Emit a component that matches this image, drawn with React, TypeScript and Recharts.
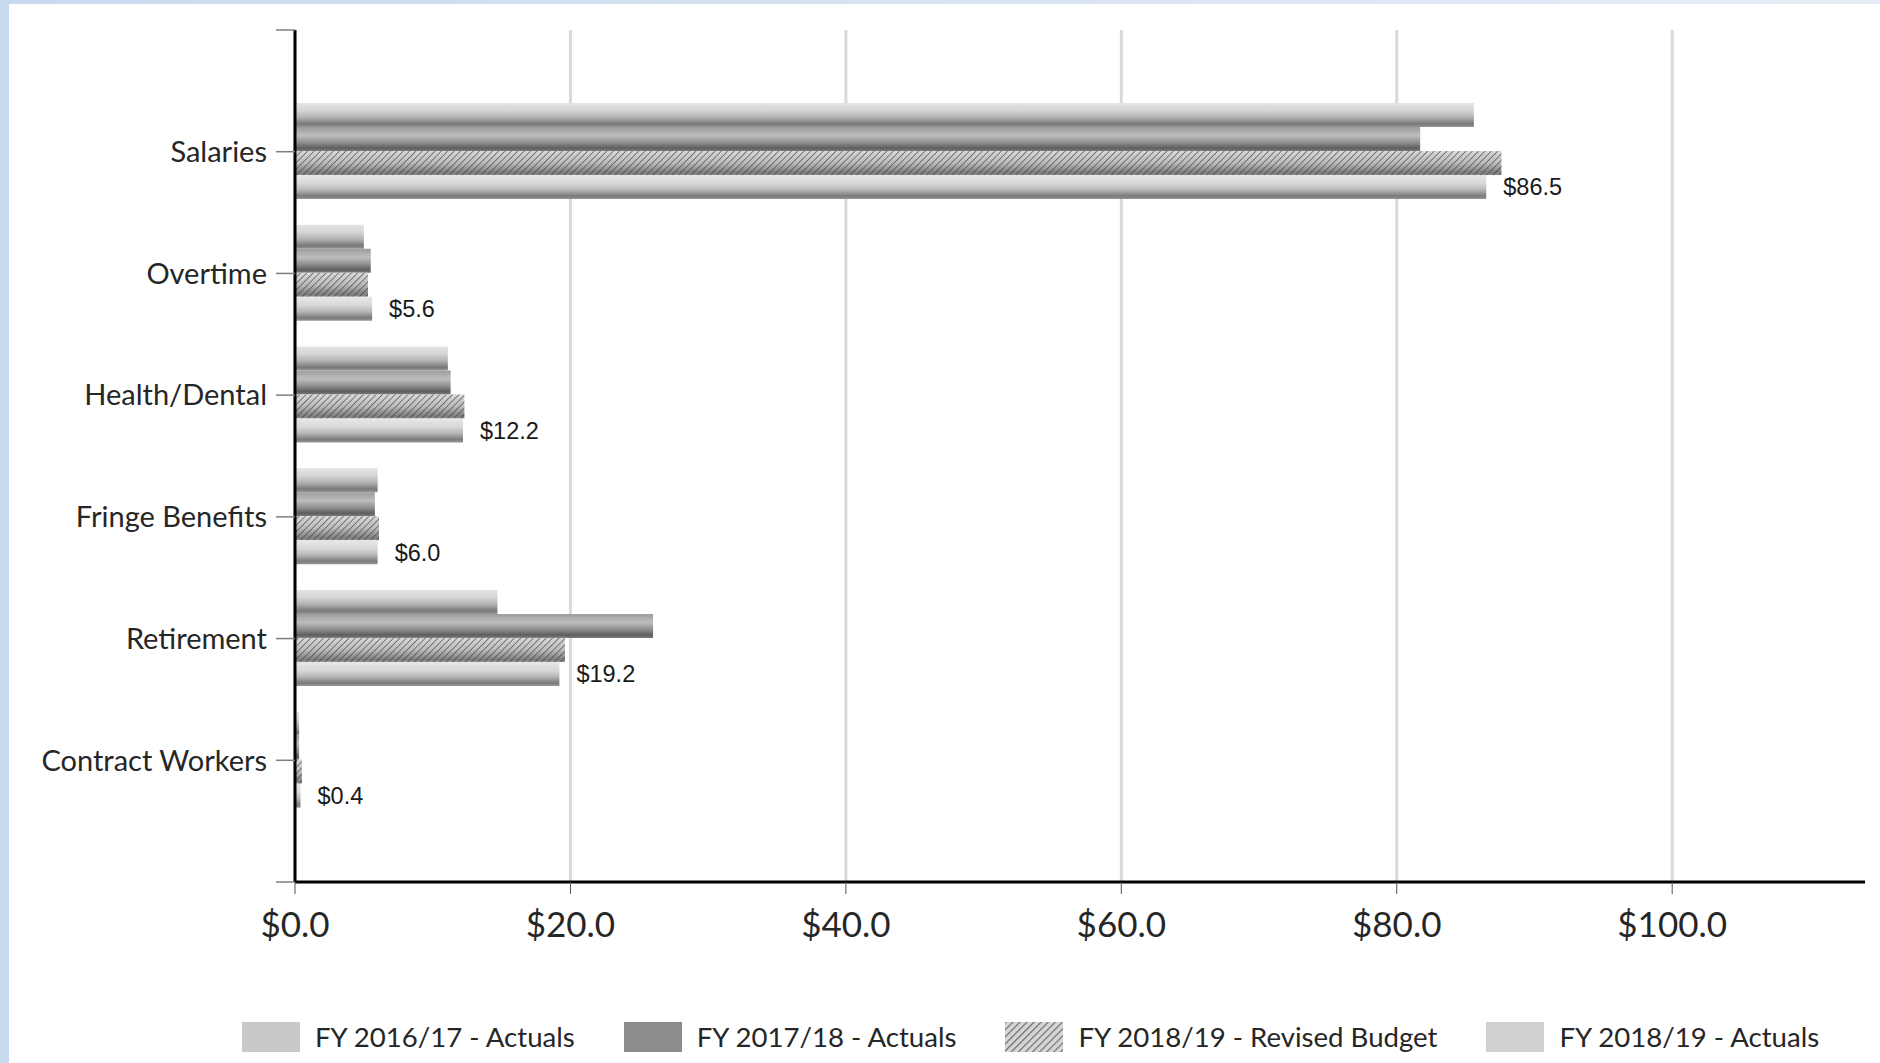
import { Bar, BarChart, CartesianGrid, LabelList, XAxis, YAxis } from "recharts";

const CATEGORIES = [
  "Salaries",
  "Overtime",
  "Health/Dental",
  "Fringe Benefits",
  "Retirement",
  "Contract Workers"
];

// $ millions by fiscal year
const FY1617_ACTUALS = [85.6, 5.0, 11.1, 6.0, 14.7, 0.3];
const FY1718_ACTUALS = [81.7, 5.5, 11.3, 5.8, 26.0, 0.3];
const FY1819_BUDGET = [87.6, 5.3, 12.3, 6.1, 19.6, 0.5];
const FY1819_ACTUALS = [86.5, 5.6, 12.2, 6.0, 19.2, 0.4];

const X_MAX = 114;
const X_TICKS = [0, 20, 40, 60, 80, 100];
const Y_TICKS = [0, 1, 2, 3, 4, 5, 6, 7];

const SERIES = [
  { key: "fy1617", name: "FY 2016/17 - Actuals", swatch: "#c9c9c9" },
  { key: "fy1718", name: "FY 2017/18 - Actuals", swatch: "#8c8c8c" },
  { key: "fy1819b", name: "FY 2018/19 - Revised Budget", swatch: "hatch" },
  { key: "fy1819a", name: "FY 2018/19 - Actuals", swatch: "#d0d0d0" }
];

const rows = CATEGORIES.map((name, i) => ({
  name,
  pos: i + 1,
  fy1617: FY1617_ACTUALS[i],
  fy1718: FY1718_ACTUALS[i],
  fy1819b: FY1819_BUDGET[i],
  fy1819a: FY1819_ACTUALS[i]
}));

const W = 1880;
const H = 1063;
const TEXT = "#262626";
const LABEL_FONT = "Lato, 'Open Sans', sans-serif";

const money = (v: number) => `$${Number(v).toFixed(1)}`;

function HatchedBar(props: any) {
  const { x, y, width, height } = props;
  if (!width || width <= 0) return null;
  return (
    <g>
      <rect x={x} y={y} width={width} height={height} fill="url(#gradBudget)" />
      <rect x={x} y={y} width={width} height={height} fill="url(#hatch)" />
    </g>
  );
}

// grid lines only at the labelled ticks, not at the end of the domain
function gridAtTicks({ offset }: any) {
  return X_TICKS.map((t) => offset.left + (t / X_MAX) * offset.width);
}

function Legend() {
  return (
    <div
      style={{
        position: "absolute",
        left: 242,
        top: 1022,
        display: "flex",
        alignItems: "center",
        fontFamily: LABEL_FONT,
        fontSize: 27.6,
        color: TEXT,
        whiteSpace: "nowrap"
      }}
    >
      {SERIES.map((s) => (
        <div key={s.key} style={{ display: "flex", alignItems: "center", marginRight: 49 }}>
          <svg width={58} height={30} style={{ display: "block" }}>
            <defs>
              <pattern
                id="hatchLegend"
                width={5}
                height={5}
                patternUnits="userSpaceOnUse"
                patternTransform="rotate(45)"
              >
                <rect width={5} height={5} fill="#d6d6d6" />
                <line x1={0} y1={0} x2={0} y2={5} stroke="#6e6e6e" strokeWidth={2.4} />
              </pattern>
            </defs>
            <rect
              width={58}
              height={30}
              fill={s.swatch === "hatch" ? "url(#hatchLegend)" : s.swatch}
            />
          </svg>
          <span style={{ marginLeft: 15, lineHeight: "30px" }}>{s.name}</span>
        </div>
      ))}
    </div>
  );
}

export default function App() {
  return (
    <div
      style={{
        position: "fixed",
        left: 0,
        top: 0,
        width: W,
        height: H,
        background: "#ffffff",
        overflow: "hidden"
      }}
    >
      <div style={{ position: "absolute", left: 0, top: 0, width: 9, height: H, background: "#c9d9ef" }} />
      <div
        style={{
          position: "absolute",
          left: 0,
          top: 0,
          width: W,
          height: 4,
          background: "linear-gradient(90deg, #c9d9ef, #e6edf7)"
        }}
      />
      <BarChart
        width={W}
        height={H}
        data={rows}
        layout="vertical"
        margin={{ top: 30, right: 15, bottom: 101, left: 0 }}
        barCategoryGap="10%"
        barGap={0}
      >
        <defs>
          <linearGradient id="gradA" x1="0" y1="0" x2="0" y2="1">
            <stop offset="0" stopColor="#e4e4e4" />
            <stop offset="0.3" stopColor="#d6d6d6" />
            <stop offset="0.6" stopColor="#b2b2b2" />
            <stop offset="0.87" stopColor="#787878" />
            <stop offset="1" stopColor="#959595" />
          </linearGradient>
          <linearGradient id="gradB" x1="0" y1="0" x2="0" y2="1">
            <stop offset="0" stopColor="#9c9c9c" />
            <stop offset="0.35" stopColor="#bdbdbd" />
            <stop offset="0.65" stopColor="#8e8e8e" />
            <stop offset="0.88" stopColor="#5e5e5e" />
            <stop offset="1" stopColor="#7c7c7c" />
          </linearGradient>
          <linearGradient id="gradBudget" x1="0" y1="0" x2="0" y2="1">
            <stop offset="0" stopColor="#d8d8d8" />
            <stop offset="0.5" stopColor="#bcbcbc" />
            <stop offset="0.9" stopColor="#7e7e7e" />
            <stop offset="1" stopColor="#8e8e8e" />
          </linearGradient>
          <linearGradient id="gradD" x1="0" y1="0" x2="0" y2="1">
            <stop offset="0" stopColor="#e8e8e8" />
            <stop offset="0.35" stopColor="#d8d8d8" />
            <stop offset="0.62" stopColor="#b6b6b6" />
            <stop offset="0.88" stopColor="#7a7a7a" />
            <stop offset="1" stopColor="#979797" />
          </linearGradient>
          <pattern
            id="hatch"
            width={4.5}
            height={4.5}
            patternUnits="userSpaceOnUse"
            patternTransform="rotate(45)"
          >
            <line x1={0} y1={0} x2={0} y2={4.5} stroke="#3c3c3c" strokeOpacity={0.75} strokeWidth={1.6} />
          </pattern>
        </defs>
        <CartesianGrid
          horizontal={false}
          stroke="#d9d9d9"
          strokeWidth={3}
          verticalCoordinatesGenerator={gridAtTicks}
        />
        <XAxis
          type="number"
          domain={[0, X_MAX]}
          ticks={X_TICKS}
          interval={0}
          tickFormatter={money}
          height={80}
          axisLine={{ stroke: "#000", strokeWidth: 3 }}
          tickLine={{ stroke: "#555" }}
          tickSize={12}
          tickMargin={18}
          tick={{ fontFamily: LABEL_FONT, fontSize: 35, fill: TEXT }}
        />
        <YAxis
          type="number"
          dataKey="pos"
          domain={[0, 7]}
          ticks={Y_TICKS}
          interval={0}
          width={295}
          tickFormatter={(v: number) => CATEGORIES[v - 1] ?? ""}
          axisLine={{ stroke: "#000", strokeWidth: 3 }}
          tickLine={{ stroke: "#7f7f7f", strokeWidth: 1.5 }}
          tickSize={19}
          tickMargin={9}
          tick={{ fontFamily: LABEL_FONT, fontSize: 29, fill: TEXT }}
        />
        <Bar dataKey="fy1617" name={SERIES[0].name} fill="url(#gradA)" isAnimationActive={false} />
        <Bar dataKey="fy1718" name={SERIES[1].name} fill="url(#gradB)" isAnimationActive={false} />
        <Bar
          dataKey="fy1819b"
          name={SERIES[2].name}
          fill="url(#gradBudget)"
          shape={HatchedBar}
          isAnimationActive={false}
        />
        <Bar dataKey="fy1819a" name={SERIES[3].name} fill="url(#gradD)" isAnimationActive={false}>
          <LabelList
            dataKey="fy1819a"
            position="right"
            offset={17}
            formatter={(v: any) => money(v)}
            fill="#1a1a1a"
            style={{ fontFamily: "'Liberation Sans', Arial, sans-serif", fontSize: 23.5 }}
          />
        </Bar>
      </BarChart>
      <Legend />
    </div>
  );
}
